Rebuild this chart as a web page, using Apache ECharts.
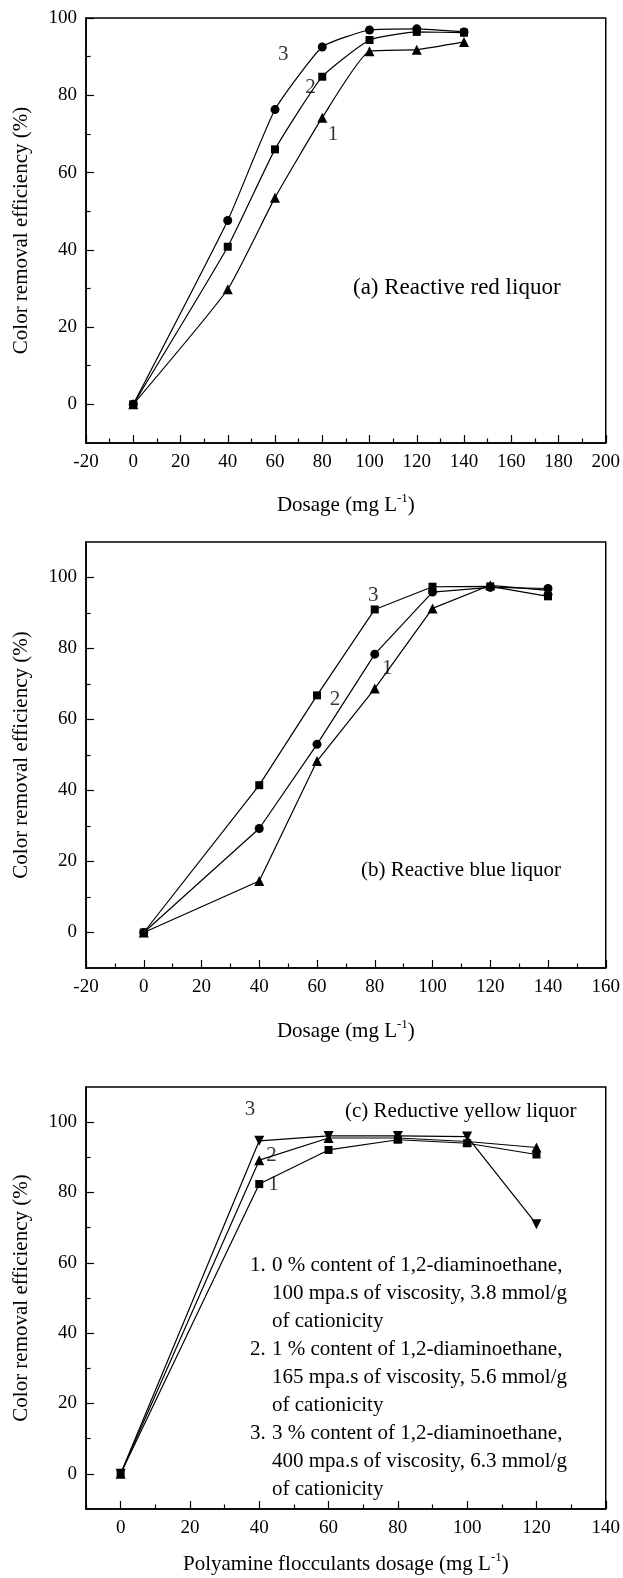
<!DOCTYPE html>
<html>
<head>
<meta charset="utf-8">
<title>Color removal efficiency vs dosage</title>
<script src="https://cdn.jsdelivr.net/npm/echarts@6/dist/echarts.min.js"></script>
<style>
  html, body { margin: 0; padding: 0; background: #fff; }
  #main { width: 623px; height: 1578px; }
</style>
</head>
<body>
<div id="main"></div>
<script>
// dosages (mg/L)
var dose = [0, 40, 60, 80, 100, 120, 140]
var yellowDose = [0, 40, 60, 80, 100, 120]

// (a) reactive red liquor
var red1 = [0, 29.8, 53.5, 74.2, 91.4, 91.8, 93.8]
var red2 = [0, 40.8, 66.0, 84.8, 94.3, 96.4, 96.2]
var red3 = [0, 47.6, 76.3, 92.5, 96.9, 97.2, 96.4]

// (b) reactive blue liquor
var blue1 = [0, 14.5, 48.3, 68.7, 91.3, 97.8, 96.4]
var blue2 = [0, 29.3, 53.0, 78.4, 95.9, 97.2, 96.9]
var blue3 = [0, 41.5, 66.8, 91.0, 97.4, 97.5, 94.7]

// (c) reductive yellow liquor
var yellow1 = [0, 82.4, 92.1, 95.0, 94.0, 90.8]
var yellow2 = [0, 89.2, 95.5, 95.5, 94.5, 92.8]
var yellow3 = [0, 94.7, 96.1, 96.1, 95.9, 71.0]

// tick labels
var xTicksA = [-20, 0, 20, 40, 60, 80, 100, 120, 140, 160, 180, 200]
var xMinorA = [-10, 10, 30, 50, 70, 90, 110, 130, 150, 170, 190]
var xTicksB = [-20, 0, 20, 40, 60, 80, 100, 120, 140, 160]
var xMinorB = [-10, 10, 30, 50, 70, 90, 110, 130, 150]
var xTicksC = [0, 20, 40, 60, 80, 100, 120, 140]
var xMinorC = [-10, 10, 30, 50, 70, 90, 110, 130]
var yTicks = [0, 20, 40, 60, 80, 100]
var yMinor = [10, 30, 50, 70, 90]

// curve numbers, placed in data space
var tagsA = [[63.5, 90.6, '3'], [75, 82, '2'], [84.5, 69.9, '1']]
var tagsB = [[79.5, 94.8, '3'], [66.2, 65.7, '2'], [84.3, 74.4, '1']]
var tagsC = [[37.3, 103.7, '3'], [43.5, 90.6, '2'], [44.1, 82.4, '1']]

var notes = [
  ['1.', '0 % content of 1,2-diaminoethane,'],
  ['', '100 mpa.s of viscosity, 3.8 mmol/g'],
  ['', 'of cationicity'],
  ['2.', '1 % content of 1,2-diaminoethane,'],
  ['', '165 mpa.s of viscosity, 5.6 mmol/g'],
  ['', 'of cationicity'],
  ['3.', '3 % content of 1,2-diaminoethane,'],
  ['', '400 mpa.s of viscosity, 6.3 mmol/g'],
  ['', 'of cationicity']
]

var serif = "'Liberation Serif', 'Times New Roman', serif"
var black = '#000'

function pairs(xs, ys) {
  return ys.map(function(v, i) { return [xs[i], v] })
}

function mainAxis(grid, pos, min, max, ticks, name, gap) {
  return {
    type: 'value', gridIndex: grid, position: pos, min: min, max: max,
    axisLine: { show: true, onZero: false, lineStyle: { color: black, width: 1.5 } },
    axisTick: { show: true, inside: true, length: 8, customValues: ticks, lineStyle: { color: black, width: 1.2 } },
    axisLabel: { customValues: ticks, margin: pos === 'left' ? 9 : 10, color: black, fontFamily: serif, fontSize: 19 },
    splitLine: { show: false },
    name: name, nameLocation: 'middle', nameGap: gap,
    nameTextStyle: {
      color: black, fontFamily: serif, fontSize: 21, lineHeight: 26,
      rich: { sup: { fontFamily: serif, fontSize: 13, lineHeight: 14, verticalAlign: 'top', color: black } }
    }
  }
}

function minorAxis(grid, pos, min, max, ticks) {
  return {
    type: 'value', gridIndex: grid, position: pos, min: min, max: max,
    axisLine: { show: false, onZero: false },
    axisTick: { show: true, inside: true, length: 4.5, customValues: ticks, lineStyle: { color: black, width: 1.2 } },
    axisLabel: { show: false },
    splitLine: { show: false }
  }
}

function line(axis, data, symbol, size, smooth, rotate) {
  return {
    type: 'line', xAxisIndex: axis, yAxisIndex: axis, data: data,
    symbol: symbol, symbolSize: size, symbolRotate: rotate || 0, smooth: smooth,
    showAllSymbol: true,
    lineStyle: { color: black, width: 1.2 },
    itemStyle: { color: black }
  }
}

function tags(axis, list) {
  return {
    type: 'scatter', xAxisIndex: axis, yAxisIndex: axis, symbolSize: 1,
    itemStyle: { color: 'rgba(0,0,0,0)' },
    label: { show: true, position: 'inside', formatter: '{b}', color: black, fontFamily: serif, fontSize: 21 },
    data: list.map(function(t) { return { value: [t[0], t[1]], name: t[2] } })
  }
}

var yName = 'Color removal efficiency (%)'
var xName = 'Dosage (mg L{sup|-1})'

var graphics = [
  { type: 'text', x: 353, y: 288, style: { text: '(a) Reactive red liquor', fontFamily: serif, fontSize: 23, fill: black, verticalAlign: 'middle' } },
  { type: 'text', x: 361, y: 870, style: { text: '(b) Reactive blue liquor', fontFamily: serif, fontSize: 21, fill: black, verticalAlign: 'middle' } },
  { type: 'text', x: 345, y: 1111, style: { text: '(c) Reductive yellow liquor', fontFamily: serif, fontSize: 21, fill: black, verticalAlign: 'middle' } }
]
notes.forEach(function(n, i) {
  var y = 1265 + i * 28
  if (n[0]) graphics.push({ type: 'text', x: 250, y: y, style: { text: n[0], fontFamily: serif, fontSize: 21, fill: black, verticalAlign: 'middle' } })
  graphics.push({ type: 'text', x: 272, y: y, style: { text: n[1], fontFamily: serif, fontSize: 21, fill: black, verticalAlign: 'middle' } })
})

var myChart = echarts.init(document.getElementById('main'))
myChart.setOption({
  animation: false,
  backgroundColor: '#fff',
  grid: [
    { left: 84, right: 13, top: 18, height: 425, show: true, borderColor: black, borderWidth: 1.5 },
    { left: 83, right: 16, top: 542, height: 426, show: true, borderColor: black, borderWidth: 1.5 },
    { left: 84, right: 13, top: 1087, height: 427, show: true, borderColor: black, borderWidth: 1.5 }
  ],
  xAxis: [
    mainAxis(0, 'bottom', -20, 200, xTicksA, xName, 49),
    mainAxis(1, 'bottom', -20, 160, xTicksB, xName, 50),
    mainAxis(2, 'bottom', -10, 140, xTicksC, 'Polyamine flocculants dosage (mg L{sup|-1})', 42),
    minorAxis(0, 'bottom', -20, 200, xMinorA),
    minorAxis(1, 'bottom', -20, 160, xMinorB),
    minorAxis(2, 'bottom', -10, 140, xMinorC)
  ],
  yAxis: [
    mainAxis(0, 'left', -10, 100, yTicks, yName, 52),
    mainAxis(1, 'left', -10, 110, yTicks, yName, 52),
    mainAxis(2, 'left', -10, 110, yTicks, yName, 52),
    minorAxis(0, 'left', -10, 100, yMinor),
    minorAxis(1, 'left', -10, 110, yMinor),
    minorAxis(2, 'left', -10, 110, yMinor)
  ],
  graphic: graphics,
  series: [
    line(0, pairs(dose, red1), 'triangle', 10, 0.15),
    line(0, pairs(dose, red2), 'rect', 8, 0.15),
    line(0, pairs(dose, red3), 'circle', 9, 0.15),
    tags(0, tagsA),
    line(1, pairs(dose, blue1), 'triangle', 10, false),
    line(1, pairs(dose, blue2), 'circle', 9, false),
    line(1, pairs(dose, blue3), 'rect', 8, false),
    tags(1, tagsB),
    line(2, pairs(yellowDose, yellow1), 'rect', 8, false),
    line(2, pairs(yellowDose, yellow2), 'triangle', 10, false),
    line(2, pairs(yellowDose, yellow3), 'triangle', 10, false, 180),
    tags(2, tagsC)
  ]
})
</script>
</body>
</html>
